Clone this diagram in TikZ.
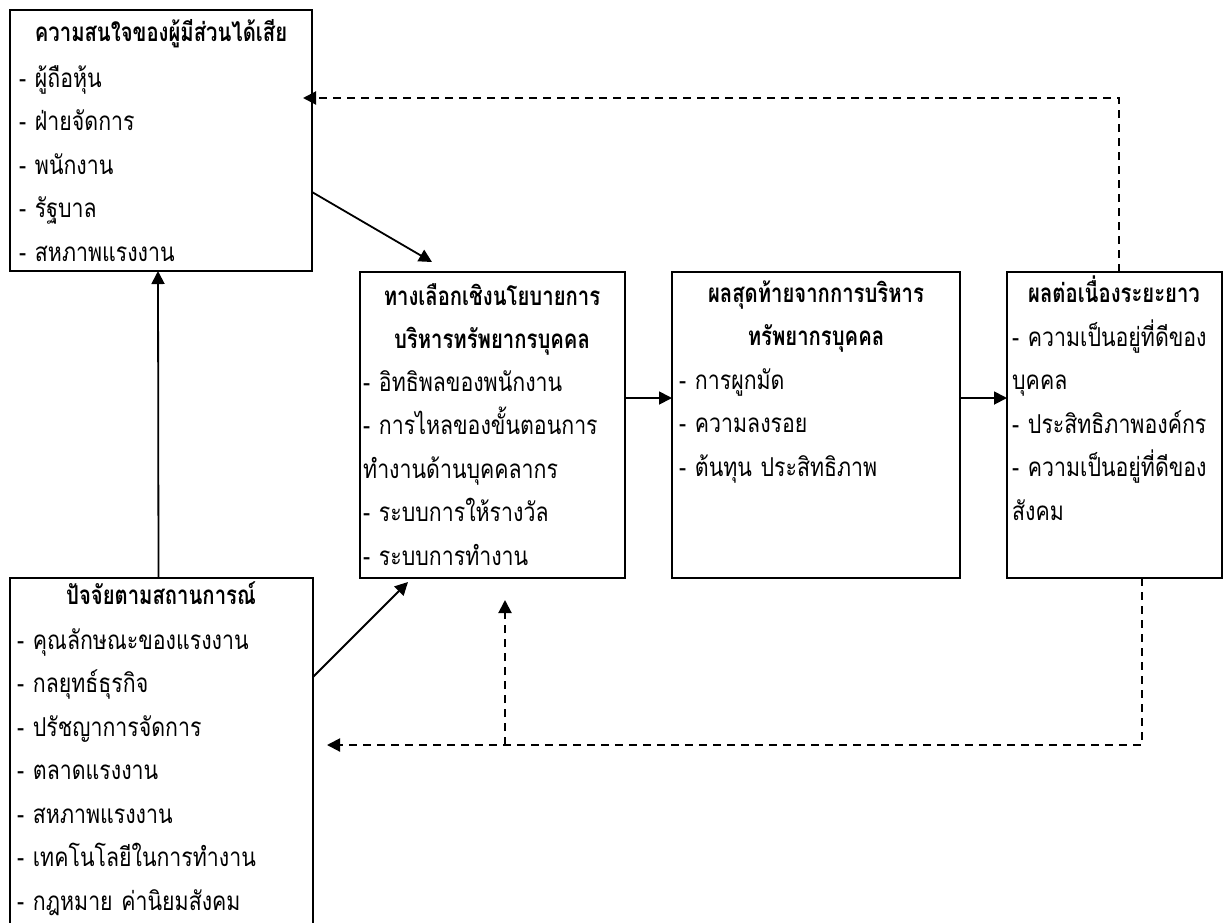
\documentclass[tikz,border=0pt]{standalone}
\usepackage{fontspec}
\newfontfamily\thaifont[Script=Thai,FakeStretch=0.82,BoldFeatures={FakeStretch=0.78}]{Loma}
\usetikzlibrary{arrows.meta}

\begin{document}
\begin{tikzpicture}[
  x=1pt, y=-1pt,
  font=\thaifont\fontsize{26}{43.5}\selectfont,
  stage/.style={draw,line width=2.6pt,rectangle,anchor=north west,inner sep=0pt,outer sep=0pt},
  heading/.style={font=\thaifont\bfseries\fontsize{26}{43}\selectfont,anchor=base,align=center,text width=300,inner sep=0pt},
  items/.style={anchor=base west,align=left,text width=400,inner sep=0pt},
  flow/.style={-{Triangle[length=13pt,width=13pt]},line width=1.8pt},
  feedback/.style={-{Triangle[length=13pt,width=13pt]},line width=2pt,dash pattern=on 8pt off 6pt}]

  \useasboundingbox (0,0) rectangle (1229,922);
  \clip (0,0) rectangle (1229,922);

  % the five boxes
  \node[stage,minimum width=302,minimum height=261] (interest) at (10,10) {};
  \node[stage,minimum width=265,minimum height=306] (policy) at (360,272) {};
  \node[stage,minimum width=288,minimum height=306] (outcome) at (672,272) {};
  \node[stage,minimum width=215,minimum height=306] (longterm) at (1007,272) {};
  \node[stage,minimum width=303,minimum height=362] (situation) at (10,578) {};

  % texts in the boxes
  \node[heading] (interestTitle) at (161,41) {ความสนใจของผู้มีส่วนได้เสีย};
  \node[items] (interestList) at (19,87) {- ผู้ถือหุ้น\\- ฝ่ายจัดการ\\- พนักงาน\\- รัฐบาล\\- สหภาพแรงงาน};

  \node[heading] (policyTitle) at (492,305) {ทางเลือกเชิงนโยบายการ\\บริหารทรัพยากรบุคคล};
  \node[items] (policyList) at (363,391) {- อิทธิพลของพนักงาน\\- การไหลของขั้นตอนการ\\ทำงานด้านบุคคลากร\\- ระบบการให้รางวัล\\- ระบบการทำงาน};

  \node[heading] (outcomeTitle) at (816,302) {ผลสุดท้ายจากการบริหาร\\ทรัพยากรบุคคล};
  \node[items] (outcomeList) at (679,389) {- การผูกมัด\\- ความลงรอย\\- ต้นทุน ประสิทธิภาพ};

  \node[heading] (longtermTitle) at (1114,302) {ผลต่อเนื่องระยะยาว};
  \node[items] (longtermList) at (1012,346) {- ความเป็นอยู่ที่ดีของ\\บุคคล\\- ประสิทธิภาพองค์กร\\- ความเป็นอยู่ที่ดีของ\\สังคม};

  \node[heading] (situationTitle) at (161,604) {ปัจจัยตามสถานการณ์};
  \node[items] (situationList) at (17,649) {- คุณลักษณะของแรงงาน\\- กลยุทธ์ธุรกิจ\\- ปรัชญาการจัดการ\\- ตลาดแรงงาน\\- สหภาพแรงงาน\\- เทคโนโลยีในการทำงาน\\- กฎหมาย ค่านิยมสังคม};

  % solid arrows
  \draw[flow] ([xshift=-3]situation.north) -- ([xshift=-3]interest.south);
  \draw[flow] ([shift={(0,182)}]interest.north east) -- ([shift={(72,-10)}]policy.north west);
  \draw[flow] ([shift={(0,99)}]situation.north east) -- ([shift={(48,4)}]policy.south west);
  \draw[flow] ([yshift=27]policy.east) -- ([yshift=27]outcome.west);
  \draw[flow] ([yshift=27]outcome.east) -- ([yshift=27]longterm.west);

  % dashed feedback
  \coordinate (loopback) at ([shift={(12.5,167)}]policy.south);
  \draw[feedback] ([xshift=4]longterm.north) |- ([shift={(-9,88)}]interest.north east);
  \draw[feedback] ([xshift=27]longterm.south) |- ([shift={(14,167)}]situation.north east);
  \draw[feedback] (loopback) -- ([shift={(12.5,22)}]policy.south);

\end{tikzpicture}
\end{document}
